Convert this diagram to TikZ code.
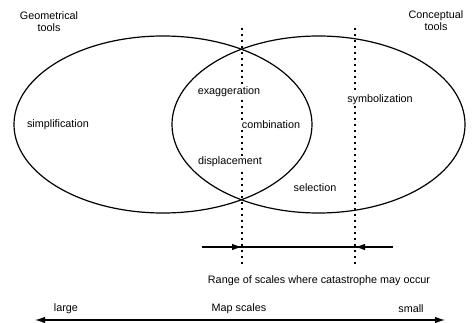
\documentclass[tikz,border=0pt]{standalone}
\usepackage{fontspec}
\setmainfont{Liberation Sans}
\usetikzlibrary{arrows.meta}
\begin{document}
\begin{tikzpicture}[x=1pt,y=-1pt,
  lbl/.style={font=\fontsize{10.8}{12}\selectfont, inner sep=1pt, align=center},
  lblw/.style={lbl, fill=white},
  outline/.style={line width=1.2pt},
  dotline/.style={line width=1.8pt, dash pattern=on 1.8pt off 4.2pt},
  arr/.style={line width=1.1pt, -{Latex[length=10pt,width=6.5pt]}}]
\useasboundingbox (0,0) rectangle (476,323);
% ellipses
\draw[outline] (163,124.5) ellipse [x radius=149pt, y radius=88.5pt];
\draw[outline] (318.5,124.5) ellipse [x radius=146.5pt, y radius=88.5pt];
% dotted lines
\coordinate (d1t) at (242,28);
\coordinate (d1b) at (242,264);
\coordinate (d2t) at (355,28);
\coordinate (d2b) at (355,264);
\draw[dotline] (d1t) -- (d1b);
\draw[dotline] (d2t) -- (d2b);
% range arrows
\coordinate (ra) at (202,247);
\coordinate (rb) at (393,247);
\coordinate (r1) at (242,247);
\coordinate (r2) at (355,247);
\draw[line width=1.1pt] (ra) -- (rb);
\draw[arr] (ra) -- (r1);
\draw[arr] (rb) -- (r2);
% labels
\node[lbl] (geo) at (49,22) {Geometrical\\tools};
\node[lbl] (con) at (436,21) {Conceptual\\tools};
\node[lbl] (simp) at (58,125) {simplification};
\node[lblw] (exag) at (229,92) {exaggeration};
\node[lblw] (comb) at (271,125) {combination};
\node[lblw] (disp) at (230,162) {displacement};
\node[lbl] (sel) at (315,188) {selection};
\node[lblw] (sym) at (380,100) {symbolization};
\node[lbl] (range) at (319,281) {Range of scales where catastrophe may occur};
% map scale axis
\coordinate (ml) at (35,320);
\coordinate (mr) at (445,320);
\draw[line width=1.1pt, {Latex[length=10pt,width=6.5pt]}-{Latex[length=10pt,width=6.5pt]}] (ml) -- (mr);
\node[lbl] (large) at (66,309) {large};
\node[lbl] (maps) at (239,309) {Map scales};
\node[lbl] (small) at (411,309) {small};
\end{tikzpicture}
\end{document}
